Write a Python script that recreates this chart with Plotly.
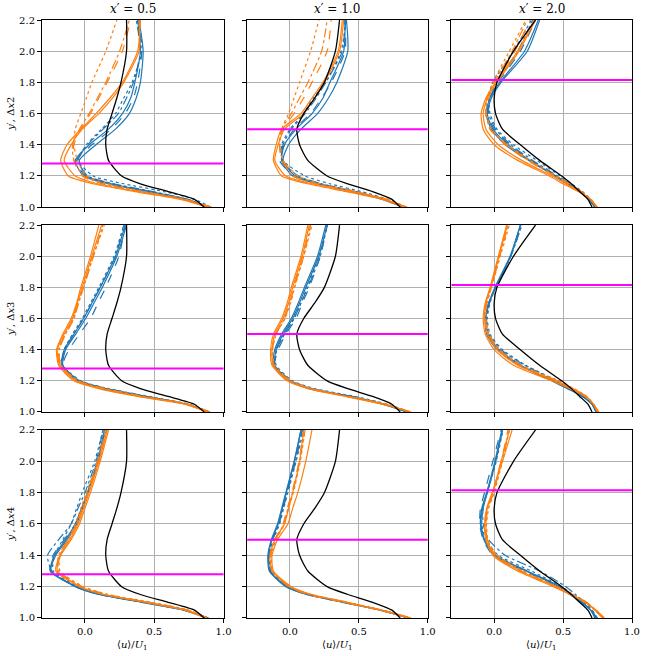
import plotly.graph_objects as go
from plotly.subplots import make_subplots

# -----------------------------------------------------
# Data
# -----------------------------------------------------

y_prime = [1.0, 1.05, 1.1, 1.15, 1.2, 1.3, 1.4, 1.5, 1.6, 1.7, 1.8, 2.0, 2.2]

x_stations = ["0.5", "1.0", "2.0"]
row_labels = ["2", "3", "4"]
shear_layer_edge = [1.28, 1.50, 1.815]

# reference profile (black), one per station
ref_c1 = [0.86, 0.79, 0.60, 0.40, 0.265, 0.17, 0.15, 0.16, 0.195, 0.23, 0.26, 0.30, 0.30]
ref_c2 = [0.80, 0.74, 0.60, 0.42, 0.27, 0.13, 0.07, 0.05, 0.10, 0.18, 0.25, 0.33, 0.36]
ref_c3 = [0.71, 0.68, 0.62, 0.56, 0.49, 0.33, 0.19, 0.06, 0.01, 0.0, 0.02, 0.14, 0.30]

# row 1 (dx2), x' = 0.5
r1c1_blue_a = [0.90, 0.74, 0.47, 0.19, 0.01, -0.04, 0.08, 0.22, 0.32, 0.37, 0.40, 0.42, 0.39]
r1c1_blue_b = [0.88, 0.72, 0.44, 0.16, -0.01, -0.07, 0.03, 0.17, 0.27, 0.33, 0.36, 0.40, 0.38]
r1c1_blue_dash = [0.89, 0.73, 0.46, 0.18, 0.00, -0.06, 0.05, 0.19, 0.29, 0.35, 0.38, 0.41, 0.38]
r1c1_blue_dashdot = [0.89, 0.74, 0.49, 0.21, 0.02, -0.05, 0.02, 0.13, 0.24, 0.30, 0.35, 0.40, 0.37]
r1c1_blue_dot = [0.91, 0.79, 0.57, 0.28, 0.06, -0.05, 0.01, 0.12, 0.22, 0.28, 0.34, 0.41, 0.39]
r1c1_orange_a = [0.90, 0.71, 0.39, 0.09, -0.07, -0.15, -0.10, -0.02, 0.10, 0.20, 0.28, 0.39, 0.39]
r1c1_orange_b = [0.89, 0.69, 0.36, 0.06, -0.12, -0.175, -0.13, -0.03, 0.08, 0.18, 0.27, 0.38, 0.40]
r1c1_orange_dash = [0.91, 0.72, 0.40, 0.12, -0.02, -0.08, -0.08, -0.03, 0.04, 0.10, 0.16, 0.27, 0.33]
r1c1_orange_dashdot = [0.91, 0.72, 0.41, 0.13, -0.01, -0.08, -0.09, -0.04, 0.03, 0.09, 0.15, 0.25, 0.32]
r1c1_orange_dot = [0.91, 0.73, 0.43, 0.16, 0.01, -0.055, -0.08, -0.07, -0.03, 0.01, 0.05, 0.15, 0.23]

# row 1 (dx2), x' = 1.0
r1c2_blue_a = [0.83, 0.68, 0.47, 0.22, 0.04, -0.05, -0.01, 0.08, 0.20, 0.28, 0.34, 0.42, 0.41]
r1c2_blue_b = [0.82, 0.67, 0.45, 0.20, 0.02, -0.06, -0.04, 0.045, 0.16, 0.24, 0.29, 0.39, 0.40]
r1c2_blue_dash = [0.83, 0.68, 0.46, 0.21, 0.03, -0.075, -0.04, 0.03, 0.15, 0.23, 0.30, 0.40, 0.40]
r1c2_blue_dashdot = [0.83, 0.69, 0.48, 0.23, 0.06, -0.06, -0.05, 0.01, 0.11, 0.19, 0.26, 0.38, 0.40]
r1c2_blue_dot = [0.84, 0.71, 0.52, 0.29, 0.11, -0.05, -0.06, 0.00, 0.10, 0.17, 0.26, 0.37, 0.41]
r1c2_orange_a = [0.84, 0.69, 0.44, 0.16, -0.03, -0.11, -0.085, -0.04, 0.10, 0.18, 0.25, 0.36, 0.39]
r1c2_orange_b = [0.83, 0.67, 0.41, 0.13, -0.06, -0.12, -0.10, -0.06, 0.08, 0.16, 0.24, 0.35, 0.38]
r1c2_orange_dash = [0.84, 0.70, 0.47, 0.20, 0.03, -0.06, -0.075, -0.05, 0.03, 0.10, 0.16, 0.27, 0.30]
r1c2_orange_dashdot = [0.84, 0.70, 0.46, 0.19, 0.02, -0.05, -0.075, -0.06, 0.01, 0.07, 0.13, 0.23, 0.27]
r1c2_orange_dot = [0.85, 0.71, 0.48, 0.22, 0.06, -0.05, -0.075, -0.06, -0.01, 0.03, 0.07, 0.15, 0.21]

# row 1 (dx2), x' = 2.0
r1c3_blue_a = [0.73, 0.69, 0.62, 0.54, 0.45, 0.26, 0.10, -0.01, -0.05, -0.02, 0.05, 0.24, 0.33]
r1c3_blue_b = [0.73, 0.69, 0.62, 0.53, 0.44, 0.25, 0.08, -0.02, -0.06, -0.03, 0.04, 0.22, 0.32]
r1c3_blue_dash = [0.73, 0.69, 0.62, 0.54, 0.45, 0.27, 0.11, 0.00, -0.05, -0.03, 0.03, 0.19, 0.30]
r1c3_blue_dashdot = [0.73, 0.69, 0.63, 0.55, 0.46, 0.28, 0.12, 0.01, -0.04, -0.03, 0.02, 0.17, 0.28]
r1c3_blue_dot = [0.74, 0.70, 0.64, 0.56, 0.48, 0.31, 0.14, 0.02, -0.03, -0.04, -0.01, 0.14, 0.27]
r1c3_orange_a = [0.74, 0.70, 0.62, 0.52, 0.42, 0.20, 0.03, -0.06, -0.08, -0.05, 0.02, 0.18, 0.30]
r1c3_orange_b = [0.75, 0.70, 0.61, 0.50, 0.40, 0.17, 0.00, -0.08, -0.095, -0.06, 0.01, 0.17, 0.29]
r1c3_orange_dash = [0.74, 0.70, 0.63, 0.54, 0.44, 0.24, 0.08, -0.03, -0.06, -0.04, 0.01, 0.15, 0.26]
r1c3_orange_dashdot = [0.74, 0.70, 0.63, 0.54, 0.44, 0.25, 0.09, -0.03, -0.06, -0.05, 0.00, 0.13, 0.24]
r1c3_orange_dot = [0.74, 0.70, 0.63, 0.55, 0.45, 0.26, 0.10, -0.02, -0.06, -0.05, -0.01, 0.11, 0.23]

# row 2 (dx3), x' = 0.5
r2c1_blue_a = [0.90, 0.74, 0.44, 0.15, -0.04, -0.16, -0.14, -0.067, 0.005, 0.065, 0.125, 0.23, 0.30]
r2c1_blue_b = [0.89, 0.73, 0.43, 0.14, -0.05, -0.17, -0.15, -0.08, -0.01, 0.05, 0.11, 0.22, 0.29]
r2c1_blue_dash = [0.90, 0.74, 0.45, 0.16, -0.04, -0.16, -0.115, -0.04, 0.04, 0.095, 0.15, 0.245, 0.29]
r2c1_blue_dashdot = [0.89, 0.73, 0.44, 0.15, -0.05, -0.165, -0.145, -0.08, -0.01, 0.05, 0.11, 0.22, 0.28]
r2c1_blue_dot = [0.90, 0.75, 0.46, 0.17, -0.03, -0.16, -0.15, -0.09, -0.02, 0.04, 0.10, 0.21, 0.28]
r2c1_orange_a = [0.89, 0.73, 0.40, 0.12, -0.065, -0.18, -0.20, -0.15, -0.09, -0.055, -0.02, 0.05, 0.12]
r2c1_orange_b = [0.88, 0.72, 0.38, 0.10, -0.08, -0.19, -0.205, -0.16, -0.10, -0.06, -0.03, 0.04, 0.10]
r2c1_orange_dash = [0.90, 0.74, 0.41, 0.13, -0.06, -0.18, -0.19, -0.14, -0.08, -0.05, -0.01, 0.06, 0.13]
r2c1_orange_dashdot = [0.90, 0.74, 0.42, 0.14, -0.05, -0.175, -0.185, -0.14, -0.08, -0.045, -0.01, 0.06, 0.13]
r2c1_orange_dot = [0.90, 0.75, 0.43, 0.15, -0.05, -0.17, -0.19, -0.145, -0.085, -0.05, -0.015, 0.06, 0.14]

# row 2 (dx3), x' = 1.0
r2c2_blue_a = [0.85, 0.68, 0.44, 0.15, 0.00, -0.11, -0.10, -0.05, 0.02, 0.07, 0.115, 0.21, 0.27]
r2c2_blue_b = [0.85, 0.67, 0.43, 0.14, -0.01, -0.12, -0.11, -0.06, 0.01, 0.06, 0.105, 0.20, 0.26]
r2c2_blue_dash = [0.85, 0.68, 0.44, 0.15, 0.00, -0.11, -0.085, -0.03, 0.045, 0.09, 0.14, 0.22, 0.27]
r2c2_blue_dashdot = [0.86, 0.69, 0.45, 0.16, 0.01, -0.11, -0.095, -0.04, 0.03, 0.08, 0.13, 0.22, 0.27]
r2c2_blue_dot = [0.87, 0.71, 0.47, 0.18, 0.02, -0.10, -0.10, -0.04, 0.03, 0.08, 0.125, 0.21, 0.27]
r2c2_orange_a = [0.87, 0.68, 0.41, 0.14, -0.01, -0.12, -0.13, -0.11, -0.05, -0.01, 0.02, 0.09, 0.14]
r2c2_orange_b = [0.88, 0.67, 0.40, 0.13, -0.02, -0.13, -0.14, -0.12, -0.06, -0.02, 0.01, 0.08, 0.13]
r2c2_orange_dash = [0.87, 0.69, 0.42, 0.15, -0.01, -0.12, -0.13, -0.10, -0.04, 0.00, 0.03, 0.09, 0.15]
r2c2_orange_dashdot = [0.87, 0.69, 0.42, 0.15, 0.00, -0.12, -0.13, -0.10, -0.04, 0.00, 0.03, 0.10, 0.15]
r2c2_orange_dot = [0.87, 0.70, 0.43, 0.16, 0.01, -0.11, -0.125, -0.10, -0.035, 0.005, 0.035, 0.10, 0.16]

# row 2 (dx3), x' = 2.0
r2c3_blue_a = [0.74, 0.71, 0.64, 0.54, 0.43, 0.19, 0.035, -0.05, -0.06, -0.035, 0.01, 0.12, 0.19]
r2c3_blue_b = [0.74, 0.71, 0.64, 0.53, 0.42, 0.18, 0.02, -0.055, -0.065, -0.04, 0.005, 0.115, 0.19]
r2c3_blue_dash = [0.74, 0.71, 0.64, 0.55, 0.44, 0.20, 0.04, -0.045, -0.06, -0.04, 0.01, 0.12, 0.20]
r2c3_blue_dashdot = [0.74, 0.71, 0.65, 0.55, 0.45, 0.22, 0.05, -0.04, -0.055, -0.035, 0.01, 0.12, 0.20]
r2c3_blue_dot = [0.75, 0.72, 0.65, 0.56, 0.46, 0.23, 0.06, -0.03, -0.05, -0.03, 0.01, 0.12, 0.20]
r2c3_orange_a = [0.75, 0.72, 0.67, 0.57, 0.45, 0.17, 0.02, -0.05, -0.07, -0.06, -0.025, 0.035, 0.095]
r2c3_orange_b = [0.76, 0.72, 0.66, 0.55, 0.42, 0.14, 0.00, -0.065, -0.08, -0.065, -0.03, 0.03, 0.09]
r2c3_orange_dash = [0.75, 0.72, 0.66, 0.57, 0.45, 0.18, 0.03, -0.04, -0.065, -0.055, -0.025, 0.04, 0.10]
r2c3_orange_dashdot = [0.75, 0.72, 0.67, 0.57, 0.46, 0.19, 0.035, -0.04, -0.065, -0.055, -0.02, 0.04, 0.10]
r2c3_orange_dot = [0.75, 0.72, 0.67, 0.58, 0.47, 0.20, 0.04, -0.035, -0.06, -0.05, -0.02, 0.045, 0.11]

# row 3 (dx4), x' = 0.5
r3c1_blue_a = [0.89, 0.72, 0.42, 0.11, -0.06, -0.25, -0.22, -0.14, -0.07, -0.025, 0.017, 0.09, 0.15]
r3c1_blue_b = [0.88, 0.71, 0.41, 0.10, -0.07, -0.245, -0.21, -0.13, -0.06, -0.02, 0.02, 0.09, 0.14]
r3c1_blue_dash = [0.89, 0.73, 0.43, 0.12, -0.06, -0.25, -0.23, -0.15, -0.07, -0.02, 0.02, 0.10, 0.14]
r3c1_blue_dashdot = [0.88, 0.72, 0.43, 0.11, -0.07, -0.24, -0.27, -0.19, -0.10, -0.05, 0.00, 0.08, 0.13]
r3c1_blue_dot = [0.89, 0.74, 0.44, 0.13, -0.05, -0.23, -0.22, -0.16, -0.10, -0.06, -0.02, 0.07, 0.13]
r3c1_orange_a = [0.88, 0.73, 0.45, 0.14, -0.03, -0.20, -0.175, -0.10, -0.04, 0.00, 0.04, 0.11, 0.17]
r3c1_orange_b = [0.87, 0.72, 0.44, 0.13, -0.04, -0.21, -0.18, -0.11, -0.05, -0.01, 0.03, 0.10, 0.16]
r3c1_orange_dash = [0.88, 0.74, 0.46, 0.15, -0.02, -0.19, -0.19, -0.12, -0.06, -0.02, 0.02, 0.09, 0.15]
r3c1_orange_dashdot = [0.88, 0.74, 0.47, 0.16, -0.02, -0.19, -0.19, -0.12, -0.06, -0.02, 0.02, 0.10, 0.16]
r3c1_orange_dot = [0.88, 0.75, 0.48, 0.17, -0.01, -0.18, -0.18, -0.12, -0.07, -0.03, 0.01, 0.09, 0.15]

# row 3 (dx4), x' = 1.0
r3c2_blue_a = [0.86, 0.66, 0.39, 0.13, -0.02, -0.145, -0.155, -0.13, -0.085, -0.055, -0.026, 0.033, 0.08]
r3c2_blue_b = [0.86, 0.65, 0.38, 0.12, -0.03, -0.15, -0.16, -0.135, -0.09, -0.06, -0.03, 0.03, 0.08]
r3c2_blue_dash = [0.86, 0.66, 0.39, 0.13, -0.02, -0.14, -0.155, -0.125, -0.08, -0.05, -0.02, 0.04, 0.09]
r3c2_blue_dashdot = [0.87, 0.67, 0.40, 0.14, -0.01, -0.14, -0.15, -0.125, -0.08, -0.05, -0.02, 0.04, 0.09]
r3c2_blue_dot = [0.87, 0.67, 0.40, 0.14, -0.01, -0.135, -0.15, -0.12, -0.075, -0.045, -0.015, 0.045, 0.10]
r3c2_orange_a = [0.87, 0.66, 0.41, 0.15, 0.00, -0.13, -0.145, -0.11, -0.04, -0.01, 0.02, 0.07, 0.10]
r3c2_orange_b = [0.88, 0.67, 0.42, 0.16, 0.01, -0.12, -0.13, -0.09, -0.015, 0.02, 0.057, 0.115, 0.16]
r3c2_orange_dash = [0.87, 0.65, 0.39, 0.13, -0.01, -0.13, -0.14, -0.11, -0.05, -0.02, 0.015, 0.065, 0.10]
r3c2_orange_dashdot = [0.87, 0.66, 0.40, 0.14, -0.005, -0.13, -0.14, -0.105, -0.045, -0.015, 0.02, 0.07, 0.11]
r3c2_orange_dot = [0.87, 0.66, 0.40, 0.14, 0.00, -0.125, -0.135, -0.10, -0.04, -0.01, 0.025, 0.075, 0.11]

# row 3 (dx4), x' = 2.0
r3c3_blue_a = [0.74, 0.70, 0.64, 0.56, 0.48, 0.24, 0.01, -0.07, -0.095, -0.085, -0.05, 0.01, 0.06]
r3c3_blue_b = [0.73, 0.70, 0.63, 0.55, 0.47, 0.23, 0.00, -0.075, -0.10, -0.09, -0.055, 0.005, 0.055]
r3c3_blue_dash = [0.74, 0.70, 0.63, 0.55, 0.46, 0.22, -0.01, -0.08, -0.105, -0.10, -0.07, -0.01, 0.05]
r3c3_blue_dashdot = [0.74, 0.71, 0.66, 0.59, 0.52, 0.33, 0.08, -0.04, -0.08, -0.08, -0.05, 0.01, 0.06]
r3c3_blue_dot = [0.75, 0.71, 0.65, 0.57, 0.49, 0.27, 0.03, -0.06, -0.09, -0.08, -0.05, 0.015, 0.065]
r3c3_orange_a = [0.79, 0.73, 0.67, 0.56, 0.45, 0.19, 0.00, -0.05, -0.06, -0.05, -0.01, 0.05, 0.11]
r3c3_orange_b = [0.80, 0.74, 0.66, 0.55, 0.43, 0.17, -0.01, -0.06, -0.07, -0.055, -0.015, 0.06, 0.13]
r3c3_orange_dash = [0.79, 0.73, 0.66, 0.56, 0.44, 0.18, 0.00, -0.055, -0.065, -0.05, -0.01, 0.05, 0.10]
r3c3_orange_dashdot = [0.79, 0.73, 0.67, 0.57, 0.45, 0.20, 0.01, -0.05, -0.06, -0.045, -0.005, 0.055, 0.11]
r3c3_orange_dot = [0.79, 0.74, 0.67, 0.57, 0.46, 0.21, 0.02, -0.045, -0.055, -0.04, 0.00, 0.06, 0.11]

# -----------------------------------------------------
# Styles
# -----------------------------------------------------

BLUE = "#1f77b4"
ORANGE = "#ff7f0e"
styles = [
    ("blue_a", BLUE, "solid"),
    ("blue_b", BLUE, "solid"),
    ("blue_dash", BLUE, "dash"),
    ("blue_dashdot", BLUE, "dashdot"),
    ("blue_dot", BLUE, "dot"),
    ("orange_a", ORANGE, "solid"),
    ("orange_b", ORANGE, "solid"),
    ("orange_dash", ORANGE, "dash"),
    ("orange_dashdot", ORANGE, "dashdot"),
    ("orange_dot", ORANGE, "dot"),
]
refs = [ref_c1, ref_c2, ref_c3]
data = globals()

FONT = "DejaVu Serif"

# -----------------------------------------------------
# Figure
# -----------------------------------------------------

fig = make_subplots(rows=3, cols=3)

col_domains = [[0.0, 0.3077], [0.3478, 0.6538], [0.694, 1.0]]
row_domains = [[0.687, 1.0], [0.3445, 0.657], [0.0, 0.3144]]

for r in range(3):
    for c in range(3):
        for key, color, dash in styles:
            xs = data[f"r{r + 1}c{c + 1}_{key}"]
            fig.add_trace(
                go.Scatter(
                    x=xs, y=y_prime, mode="lines",
                    line=dict(color=color, dash=dash, width=1.2, shape="spline", smoothing=0.6),
                    showlegend=False, hoverinfo="skip",
                ),
                row=r + 1, col=c + 1,
            )
        fig.add_trace(
            go.Scatter(
                x=refs[c], y=y_prime, mode="lines",
                line=dict(color="black", width=1.3, shape="spline", smoothing=0.6),
                showlegend=False, hoverinfo="skip",
            ),
            row=r + 1, col=c + 1,
        )
        fig.add_hline(y=shear_layer_edge[c], line=dict(color="#ff00ff", width=2),
                      row=r + 1, col=c + 1)

        fig.update_xaxes(
            domain=col_domains[c], range=[-0.31, 1.0],
            tickvals=[0.0, 0.5, 1.0], ticktext=["0.0", "0.5", "1.0"],
            showticklabels=(r == 2),
            row=r + 1, col=c + 1,
        )
        fig.update_yaxes(
            domain=row_domains[r], range=[1.0, 2.2],
            tickvals=[1.0, 1.2, 1.4, 1.6, 1.8, 2.0, 2.2],
            ticktext=["1.0", "1.2", "1.4", "1.6", "1.8", "2.0", "2.2"],
            showticklabels=(c == 0),
            row=r + 1, col=c + 1,
        )

fig.update_xaxes(showline=True, mirror=True, linecolor="black", linewidth=1,
                 showgrid=True, gridcolor="#b0b0b0", gridwidth=1, zeroline=False,
                 ticks="outside", ticklen=4, tickcolor="black",
                 tickfont=dict(family=FONT, size=10, color="black"))
fig.update_yaxes(showline=True, mirror=True, linecolor="black", linewidth=1,
                 showgrid=True, gridcolor="#b0b0b0", gridwidth=1, zeroline=False,
                 ticks="outside", ticklen=4, tickcolor="black",
                 tickfont=dict(family=FONT, size=10, color="black"))

# column titles, row labels, x titles
col_centers = [sum(d) / 2 for d in col_domains]
row_centers = [sum(d) / 2 for d in row_domains]
annotations = []
for c in range(3):
    annotations.append(dict(
        text=f"<i>x</i>′ = {x_stations[c]}", x=col_centers[c], y=1.0,
        xref="paper", yref="paper", xanchor="center", yanchor="bottom", yshift=2,
        showarrow=False, font=dict(family=FONT, size=12, color="black")))
    annotations.append(dict(
        text="⟨<i>u</i>⟩/<i>U</i><sub>1</sub>", x=col_centers[c], y=0.0,
        xref="paper", yref="paper", xanchor="center", yanchor="middle", yshift=-27,
        showarrow=False, font=dict(family=FONT, size=10, color="black")))
for r in range(3):
    annotations.append(dict(
        text=f"<i>y</i>′, Δ<i>x</i>{row_labels[r]}", x=0.0, y=row_centers[r],
        xref="paper", yref="paper", xanchor="right", yanchor="middle", xshift=-24,
        textangle=-90, showarrow=False, font=dict(family=FONT, size=10, color="black")))

fig.update_layout(
    width=650, height=656,
    margin=dict(l=42, r=10, t=20, b=38),
    paper_bgcolor="white", plot_bgcolor="white",
    annotations=annotations,
    font=dict(family=FONT, color="black"),
)

# drop the default page margin so the figure fills the window exactly
fig.write_html(
    "out.html",
    config={"displayModeBar": False},
    post_script="document.body.style.margin = '0';",
)
